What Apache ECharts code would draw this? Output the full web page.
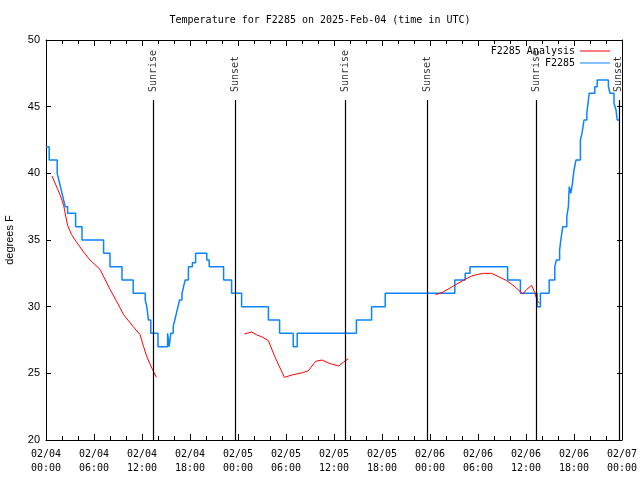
<!DOCTYPE html>
<html>
<head>
<meta charset="utf-8">
<script src="https://cdn.jsdelivr.net/npm/echarts@6/dist/echarts.min.js"></script>
<style>html,body{margin:0;padding:0;background:#fff;}#c{width:640px;height:480px;}</style>
</head>
<body>
<div id="c"></div>
<script>
// Hours since 2025-02-04 00:00 UTC
const obsHours = [0,0.4,1.4,1.6,1.8,2.0,2.2,2.4,2.7,3.7,4.5,7.2,8.0,9.5,10.9,12.4,12.6,12.8,13.1,14.0,15.2,15.4,15.6,15.9,16.1,16.3,16.5,16.7,17.0,17.2,17.4,17.8,18.3,18.7,20.1,20.4,22.2,23.2,24.45,27.8,29.2,30.9,31.4,38.8,40.7,42.4,51.1,52.4,53.0,57.7,59.3,61.4,61.8,62.9,63.6,63.8,64.2,64.35,64.6,65.1,65.3,65.4,65.6,65.8,66.0,66.25,66.8,67.0,67.25,67.6,67.8,67.9,68.6,68.9,70.3,70.5,71.0,71.25,71.4,71.7];
const obsTemps = [42,41,40,39.5,39,38.5,38,37.5,37,36,35,34,33,32,31,30.5,30,29,28,27,28,27,28,28.5,29,29.5,30,30.5,31,31.5,32,33,33.3,34,33.5,33,32,31,30,29,28,27,28,29,30,31,32,32.5,33,32,31,30,31,32,33,33.5,34.25,35,36,36.75,37.5,39,38.5,39.25,40.25,41,42.5,43,44,44.5,45.5,46,46.5,47,46.5,46,45.25,44.75,44,44];

// Analysis series; null marks a gap
const anaHours = [0.75,1.25,1.75,2.2,2.7,3.2,3.75,4.7,5.5,6.75,8,9,9.7,10.9,11.75,12.2,12.6,13.3,13.8,
  19,
  24.8,25.7,26.3,27.1,27.8,28.6,29.8,30.9,32.1,32.8,33.7,34.5,35.2,35.7,36.6,37.2,37.8,
  43,
  48.7,49.5,50.5,51.1,51.5,52.4,53.2,53.8,54.7,55.7,56.75,57.6,58.6,59.6,60.1,60.7,61.1,61.4,61.7];
const anaTemps = [39.8,39.1,38.4,37.6,36.1,35.4,34.9,34.1,33.5,32.8,31.3,30.2,29.4,28.5,27.9,27.0,26.25,25.3,24.7,
  null,
  27.95,28.1,27.9,27.7,27.45,26.25,24.7,24.9,25.05,25.2,25.9,26.0,25.8,25.7,25.55,25.85,26.1,
  null,
  30.9,31.05,31.4,31.6,31.75,32.05,32.3,32.4,32.5,32.5,32.2,31.95,31.5,30.95,31.3,31.6,31.05,30.45,30.25];

const sunHours = [13.37,23.7,37.37,47.63,61.33,71.6];
const sunLabels = ['Sunrise','Sunset','Sunrise','Sunset','Sunrise','Sunset'];

const xMin = 0, xMax = 72, xStep = 6;
const yMin = 20, yMax = 50, yStep = 5;
const sunLineTop = 45.5, sunLabelY = 46.1;

const mono = 'DejaVu Sans Mono';
const sans = 'Liberation Sans';

function fmtX(h) {
  const d = 4 + Math.floor(h / 24);
  const hr = Math.round(h % 24);
  return '02/' + String(d).padStart(2, '0') + '\n' + String(hr).padStart(2, '0') + ':00';
}

const obsData = obsHours.map((h, i) => [h, obsTemps[i]]);
const anaData = anaHours.map((h, i) => [h, anaTemps[i] === null ? '-' : anaTemps[i]]);
const sunLines = sunHours.map(h => [{coord: [h, yMin]}, {coord: [h, sunLineTop]}]);
const sunLabelData = sunHours.map((h, i) => ({value: [h, sunLabelY], name: sunLabels[i]}));

const chart = echarts.init(document.getElementById('c'), null, {renderer: 'canvas'});
const xCommon = {
  type: 'value', min: xMin, max: xMax, interval: xStep,
  axisLine: {show: true, onZero: false, lineStyle: {color: '#000', width: 1}},
  axisTick: {show: true, inside: true, length: 6, lineStyle: {color: '#000'}},
  minorTick: {show: true, splitNumber: 3, length: 4, lineStyle: {color: '#000'}},
  splitLine: {show: false}
};
const yCommon = {
  type: 'value', min: yMin, max: yMax, interval: yStep,
  axisLine: {show: true, onZero: false, lineStyle: {color: '#000', width: 1}},
  axisTick: {show: true, inside: true, length: 5, lineStyle: {color: '#000'}},
  splitLine: {show: false}
};
const legendCommon = {
  right: 30, padding: 0, align: 'right', itemWidth: 30, itemHeight: 1, icon: 'rect',
  textStyle: {fontFamily: mono, fontSize: 10, color: '#000'}, selectedMode: false
};

chart.setOption({
  animation: false,
  backgroundColor: '#fff',
  title: {
    text: 'Temperature for F2285 on 2025-Feb-04 (time in UTC)',
    left: 'center', top: 15, padding: 0,
    textStyle: {fontFamily: mono, fontSize: 10, fontWeight: 'normal', color: '#000'}
  },
  grid: {left: 46, right: 18, top: 40, bottom: 40, containLabel: false, outerBoundsMode: 'none'},
  legend: [
    Object.assign({}, legendCommon, {data: ['F2285 Analysis'], top: 46}),
    Object.assign({}, legendCommon, {data: ['F2285'], top: 58})
  ],
  xAxis: [
    Object.assign({}, xCommon, {
      position: 'bottom',
      axisLabel: {show: true, formatter: fmtX, margin: 7, lineHeight: 14,
        fontFamily: mono, fontSize: 10, color: '#000'}
    }),
    Object.assign({}, xCommon, {position: 'top', axisLabel: {show: false}})
  ],
  yAxis: [
    Object.assign({}, yCommon, {
      position: 'left',
      name: 'degrees F', nameLocation: 'middle', nameGap: 31, nameRotate: 90,
      nameTextStyle: {fontFamily: sans, fontSize: 11, color: '#000'},
      axisLabel: {show: true, margin: 6, fontFamily: sans, fontSize: 11, color: '#000'}
    }),
    Object.assign({}, yCommon, {position: 'right', axisLabel: {show: false}})
  ],
  series: [
    {
      name: 'F2285 Analysis', type: 'line', data: anaData, xAxisIndex: 0, yAxisIndex: 0,
      symbol: 'none', connectNulls: false,
      lineStyle: {color: '#ff0000', width: 1}, itemStyle: {color: '#ff0000'},
      z: 3,
      markLine: {
        silent: true, symbol: ['none', 'none'], animation: false,
        lineStyle: {color: '#000', width: 1.2, type: 'solid'},
        label: {show: false},
        data: sunLines
      }
    },
    {
      name: 'F2285', type: 'line', data: obsData, xAxisIndex: 0, yAxisIndex: 0,
      symbol: 'none', step: 'end',
      lineStyle: {color: '#0a84ff', width: 1.5}, itemStyle: {color: '#0a84ff'},
      z: 2
    },
    {
      name: 'sun', type: 'scatter', data: sunLabelData, xAxisIndex: 0, yAxisIndex: 0,
      symbolSize: 0, silent: true,
      label: {
        show: true, formatter: p => p.name, position: [0, 0], rotate: 90,
        align: 'left', verticalAlign: 'middle',
        fontFamily: mono, fontSize: 10, color: '#000'
      }
    }
  ]
});
</script>
</body>
</html>
